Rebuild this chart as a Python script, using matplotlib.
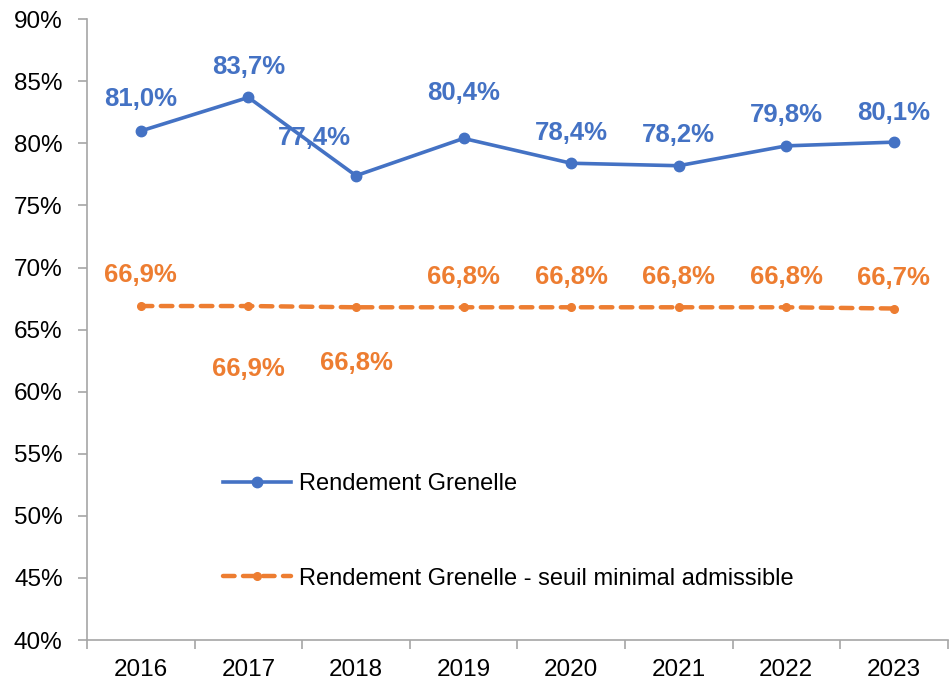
import matplotlib
matplotlib.use("Agg")
import matplotlib.pyplot as plt
from matplotlib.ticker import FixedLocator

plt.rcParams['font.family'] = ['Liberation Sans', 'DejaVu Sans']

years = ["2016", "2017", "2018", "2019", "2020", "2021", "2022", "2023"]
rendement = [81.0, 83.7, 77.4, 80.4, 78.4, 78.2, 79.8, 80.1]
seuil = [66.9, 66.9, 66.8, 66.8, 66.8, 66.8, 66.8, 66.7]

# label offsets in points (layout only)
blue_offsets = [(0, 23), (0, 22), (-30, 27), (0, 33), (0, 22), (0, 22), (0, 22), (0, 21)]
orange_offsets = [(0, 22), (0, -45), (0, -40), (0, 22), (0, 22), (0, 22), (0, 22), (0, 22)]

blue = "#4472C4"
orange = "#ED7D31"
grey = "#A6A6A6"

fig = plt.figure(figsize=(9.51, 6.86), dpi=100)
ax = fig.add_axes([0.0915, 0.067, 0.905, 0.905])

x = list(range(len(years)))
ax.plot(x, rendement, color=blue, lw=2.6, marker='o', ms=7.5, label="Rendement Grenelle")
ax.plot(x, seuil, color=orange, lw=3.2, ls=(0, (2.6, 1.9)), marker='o', ms=5.5,
        dash_capstyle='round',
        label="Rendement Grenelle - seuil minimal admissible")

def fmt(v):
    return f"{v:.1f}".replace(".", ",") + "%"

for i, v in enumerate(rendement):
    ax.annotate(fmt(v), (i, v), xytext=blue_offsets[i], textcoords='offset points',
                ha='center', va='center', color=blue, fontsize=18.5, fontweight='bold')

for i, v in enumerate(seuil):
    ax.annotate(fmt(v), (i, v), xytext=orange_offsets[i], textcoords='offset points',
                ha='center', va='center', color=orange, fontsize=18.5, fontweight='bold')

ax.set_ylim(40, 90)
ax.set_xlim(-0.5, len(years) - 0.5)
ax.set_yticks(range(40, 91, 5))
ax.set_yticklabels([f"{t}%" for t in range(40, 91, 5)], fontsize=17.5)
ax.xaxis.set_major_locator(FixedLocator([i - 0.5 for i in range(len(years) + 1)]))
ax.xaxis.set_major_formatter(plt.NullFormatter())
ax.xaxis.set_minor_locator(FixedLocator(x))
ax.set_xticklabels(years, minor=True, fontsize=17.5)
ax.tick_params(axis='x', which='minor', length=0, pad=14)
ax.tick_params(axis='x', which='major', length=6.5, color=grey, width=1.2)
ax.tick_params(axis='y', length=6.5, color=grey, width=1.2, pad=11)

for s in ['top', 'right']:
    ax.spines[s].set_visible(False)
for s in ['left', 'bottom']:
    ax.spines[s].set_color(grey)
    ax.spines[s].set_linewidth(1.2)

leg = ax.legend(loc='upper left', bbox_to_anchor=(0.133, 0.303), frameon=False,
                fontsize=17, labelspacing=3.07, handlelength=2.9, handletextpad=0.35)

fig.savefig("out.png", dpi=100)
